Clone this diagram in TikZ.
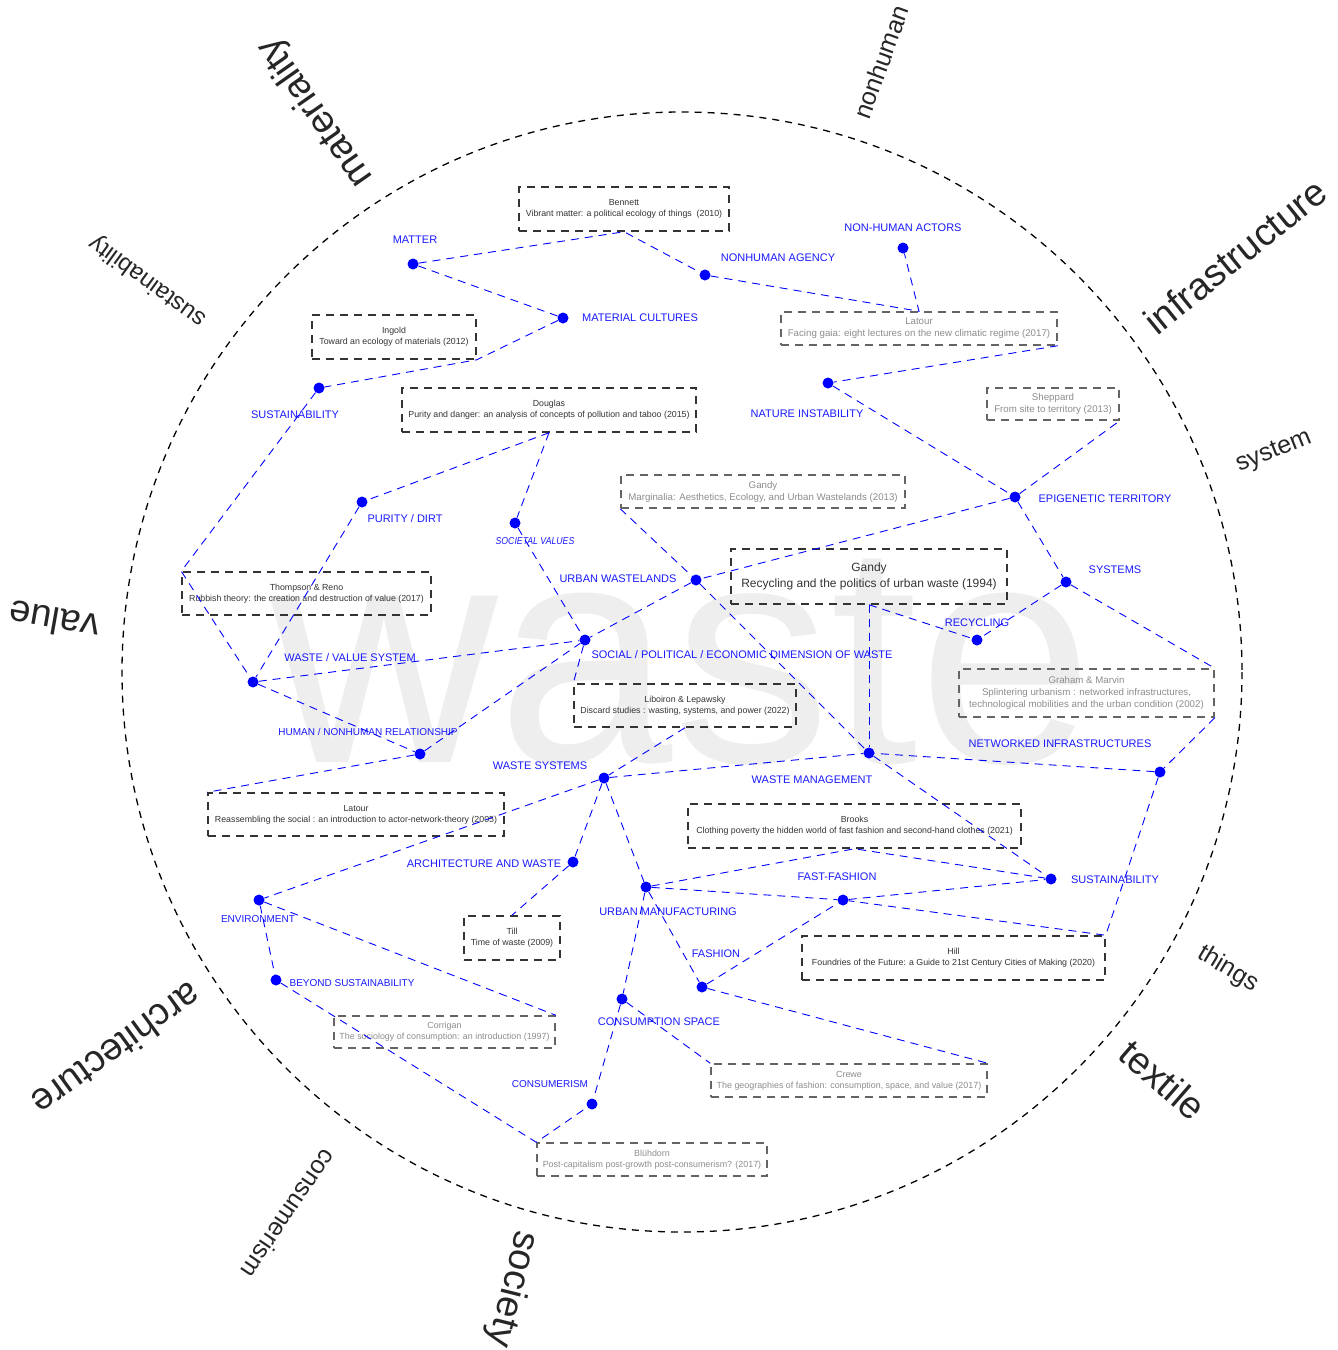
\documentclass[tikz,border=0pt]{standalone}
\usepackage{fontspec}
\setmainfont{Liberation Sans}
\usepackage{xcolor}
\usepackage{tikz}
\usetikzlibrary{positioning}

\definecolor{kwblue}{RGB}{25,25,255}
\definecolor{linkblue}{RGB}{0,0,255}
\definecolor{refdark}{RGB}{51,51,51}
\definecolor{refgrayline}{RGB}{100,100,100}
\definecolor{refgraytext}{RGB}{140,140,140}
\definecolor{wastegray}{RGB}{238,238,238}

\begin{document}
\begin{tikzpicture}[
    x=1pt, y=-1pt,
    dot/.style={circle, fill=linkblue, inner sep=0pt, minimum size=11pt},
    kw/.style={text=kwblue, inner sep=0pt, font=\fontsize{11}{13}\selectfont},
    kwsmall/.style={text=kwblue, inner sep=0pt, font=\fontsize{10}{12}\selectfont},
    link/.style={draw=linkblue, line width=0.9pt, dash pattern=on 8pt off 6pt},
    ref/.style={draw=refdark, text=refdark, line width=1.5pt, dash pattern=on 8pt off 6pt,
      align=center, inner sep=0pt, font=\fontsize{8.8}{11}\selectfont},
    refgray/.style={ref, draw=refgrayline, text=refgraytext, font=\fontsize{9.7}{12}\selectfont},
    refgraysmall/.style={refgray, font=\fontsize{8.9}{11}\selectfont},
    theme/.style={text=black!85, inner sep=0pt, font=\fontsize{25}{30}\selectfont},
    bigtheme/.style={text=black!85, inner sep=0pt, font=\fontsize{38}{44}\selectfont}
  ]
  \useasboundingbox (0,0) rectangle (1338,1350);

  % background word and frame
  \node[text=wastegray, inner sep=0pt, anchor=base, font=\fontsize{315}{315}\selectfont] (wasteword) at (682,762) {waste};
  \draw[line width=1.3pt, dash pattern=on 7pt off 6pt] (682,672) circle (560);

  % themes round the circle
  \node[bigtheme, rotate=125] (materiality) at (316,112) {materiality};
  \node[theme, rotate=70] (nonhuman) at (881,62) {nonhuman};
  \node[bigtheme, rotate=39] (infrastructure) at (1235,256) {infrastructure};
  \node[theme, rotate=22] (system) at (1274,452) {system};
  \node[theme, rotate=-31] (things) at (1228,969) {things};
  \node[bigtheme, rotate=-41] (textile) at (1163,1080) {textile};
  \node[bigtheme, rotate=-104] (society) at (512,1289) {society};
  \node[theme, rotate=-124] (consumerismword) at (289,1214) {consumerism};
  \node[bigtheme, rotate=-144] (architecture) at (117,1050) {architecture};
  \node[bigtheme, rotate=170] (value) at (54,621) {value};
  \node[theme, font=\fontsize{24}{28}\selectfont, rotate=144] (sustainabilityword) at (148,281) {sustainability};

  % references
  \node[ref, minimum width=210, minimum height=44] (bennett) at (624,209) {Bennett\\Vibrant matter: a political ecology of things\ \ (2010)};
  \node[ref, minimum width=164, minimum height=44] (ingold) at (394,337) {Ingold\\Toward an ecology of materials (2012)};
  \node[refgray, minimum width=276, minimum height=33] (latourgaia) at (919,328.5) {Latour\\Facing gaia: eight lectures on the new climatic regime (2017)};
  \node[ref, minimum width=294, minimum height=44] (douglas) at (549,410) {Douglas\\Purity and danger: an analysis of concepts of pollution and taboo (2015)};
  \node[refgray, minimum width=132, minimum height=32] (sheppard) at (1053,404) {Sheppard\\From site to territory (2013)};
  \node[refgray, minimum width=284, minimum height=33] (gandymarg) at (763,491.5) {Gandy\\Marginalia: Aesthetics, Ecology, and Urban Wastelands (2013)};
  \node[ref, minimum width=276, minimum height=55, font=\fontsize{12}{16}\selectfont] (gandyrec) at (869,576.5) {Gandy\\Recycling and the politics of urban waste (1994)};
  \node[ref, minimum width=249, minimum height=43] (thompson) at (306.5,593.5) {Thompson \& Reno\\Rubbish theory: the creation and destruction of value (2017)};
  \node[refgray, minimum width=255, minimum height=48] (graham) at (1086.5,693) {Graham \& Marvin\\Splintering urbanism : networked infrastructures,\\technological mobilities and the urban condition (2002)};
  \node[ref, minimum width=222, minimum height=43] (liboiron) at (685,705.5) {Liboiron \& Lepawsky\\Discard studies : wasting, systems, and power (2022)};
  \node[ref, minimum width=296, minimum height=43] (latoursocial) at (356,814.5) {Latour\\Reassembling the social : an introduction to actor-network-theory (2005)};
  \node[ref, minimum width=333, minimum height=44] (brooks) at (854.5,826) {Brooks\\Clothing poverty the hidden world of fast fashion and second-hand clothes (2021)};
  \node[ref, minimum width=96, minimum height=44] (till) at (512,938) {Till\\Time of waste (2009)};
  \node[ref, minimum width=303, minimum height=44] (hill) at (953.5,958) {Hill\\Foundries of the Future: a Guide to 21st Century Cities of Making (2020)};
  \node[refgraysmall, minimum width=221, minimum height=32] (corrigan) at (444.5,1032) {Corrigan\\The sociology of consumption: an introduction (1997)};
  \node[refgraysmall, minimum width=276, minimum height=33] (crewe) at (849,1080.5) {Crewe\\The geographies of fashion: consumption, space, and value (2017)};
  \node[refgraysmall, minimum width=230, minimum height=33] (bluhdorn) at (652,1159.5) {Blühdorn\\Post-capitalism post-growth post-consumerism? (2017)};

  % keywords
  \node[dot] (matter) at (413,264) {};
  \node[dot] (nhagency) at (705,275) {};
  \node[dot] (nhactors) at (903,248) {};
  \node[dot] (matcult) at (563,318) {};
  \node[dot] (sustA) at (319,388) {};
  \node[dot] (natinst) at (828,383) {};
  \node[dot] (epigen) at (1015,497) {};
  \node[dot] (purity) at (362,502) {};
  \node[dot] (socval) at (515,523) {};
  \node[dot] (urbwaste) at (696,580) {};
  \node[dot] (systems) at (1066,582) {};
  \node[dot] (recycling) at (977,640) {};
  \node[dot] (socpol) at (585,640) {};
  \node[dot] (wvs) at (253,682) {};
  \node[dot] (humnon) at (420,754) {};
  \node[dot] (wastemgmt) at (869,753) {};
  \node[dot] (netinfra) at (1160,772) {};
  \node[dot] (wastesys) at (604,778) {};
  \node[dot] (archwaste) at (573,862) {};
  \node[dot] (environment) at (259,900) {};
  \node[dot] (urbmanu) at (646,887) {};
  \node[dot] (fastfash) at (843,900) {};
  \node[dot] (sustB) at (1051,879) {};
  \node[dot] (fashion) at (702,987) {};
  \node[dot] (beyond) at (276,980) {};
  \node[dot] (consspace) at (622,999) {};
  \node[dot] (consumerism) at (592,1104) {};

  \node[kw] (matterlbl) at (415,240) {MATTER};
  \node[kw] (nhagencylbl) at (778,258) {NONHUMAN AGENCY};
  \node[kw] (nhactorslbl) at (903,228) {NON-HUMAN ACTORS};
  \node[kw] (matcultlbl) at (640,318) {MATERIAL CULTURES};
  \node[kw] (sustAlbl) at (295,415) {SUSTAINABILITY};
  \node[kw] (natinstlbl) at (807,414) {NATURE INSTABILITY};
  \node[kw] (epigenlbl) at (1105,499) {EPIGENETIC TERRITORY};
  \node[kw] (puritylbl) at (405,519) {PURITY / DIRT};
  \node[kwsmall, font=\fontsize{10}{12}\selectfont\itshape, xscale=0.87] (socvallbl) at (535,541) {SOCIETAL VALUES};
  \node[kw] (urbwastelbl) at (618,579) {URBAN WASTELANDS};
  \node[kw] (systemslbl) at (1115,570) {SYSTEMS};
  \node[kw] (recyclinglbl) at (977,623) {RECYCLING};
  \node[kw] (socpollbl) at (742,655) {SOCIAL / POLITICAL / ECONOMIC DIMENSION OF WASTE};
  \node[kw] (wvslbl) at (350,658) {WASTE / VALUE SYSTEM};
  \node[kwsmall] (humnonlbl) at (368,732) {HUMAN / NONHUMAN RELATIONSHIP};
  \node[kw] (wastemgmtlbl) at (812,780) {WASTE MANAGEMENT};
  \node[kw] (netinfralbl) at (1060,744) {NETWORKED INFRASTRUCTURES};
  \node[kw] (wastesyslbl) at (540,766) {WASTE SYSTEMS};
  \node[kw] (archwastelbl) at (484,864) {ARCHITECTURE AND WASTE};
  \node[kwsmall] (environmentlbl) at (258,919) {ENVIRONMENT};
  \node[kw] (urbmanulbl) at (668,912) {URBAN MANUFACTURING};
  \node[kw] (fastfashlbl) at (837,877) {FAST-FASHION};
  \node[kw] (sustBlbl) at (1115,880) {SUSTAINABILITY};
  \node[kw] (fashionlbl) at (716,954) {FASHION};
  \node[kwsmall] (beyondlbl) at (352,983) {BEYOND SUSTAINABILITY};
  \node[kw] (consspacelbl) at (659,1022) {CONSUMPTION SPACE};
  \node[kwsmall] (consumerismlbl) at (550,1084) {CONSUMERISM};

  % connections
  \draw[link] (matter) -- (bennett.south) -- (nhagency);
  \draw[link] (matter) -- (matcult) -- (ingold.south east) -- (sustA);
  \draw[link] (nhagency) -- (latourgaia.north) -- (nhactors);
  \draw[link] (latourgaia.south east) -- (natinst) -- (epigen) -- (sheppard.south east);
  \draw[link] (epigen) -- (urbwaste);
  \draw[link] (epigen) -- (systems) -- (recycling);
  \draw[link] (systems) -- (graham.north east);
  \draw[link] (graham.south east) -- (netinfra) -- (wastemgmt);
  \draw[link] (netinfra) -- (hill.north east) -- (fastfash);
  \draw[link] (gandyrec.south) -- (wastemgmt);
  \draw[link] (gandyrec.south) -- (recycling);
  \draw[link] (gandymarg.south west) -- (urbwaste) -- (wastemgmt) -- (sustB);
  \draw[link] (urbwaste) -- (socpol);
  \draw[link] (douglas.south) -- (socval) -- (socpol);
  \draw[link] (douglas.south) -- (purity) -- (wvs);
  \draw[link] (sustA) -- (thompson.north west) -- (wvs) -- (socpol);
  \draw[link] (wvs) -- (humnon) -- (socpol);
  \draw[link] (humnon) -- (latoursocial.north west);
  \draw[link] (socpol) -- (liboiron.north west);
  \draw[link] (liboiron.south) -- (wastesys) -- (wastemgmt);
  \draw[link] (wastesys) -- (environment);
  \draw[link] (wastesys) -- (archwaste) -- (till.north);
  \draw[link] (wastesys) -- (urbmanu);
  \draw[link] (environment) -- (beyond) -- (bluhdorn.north west) -- (consumerism);
  \draw[link] (environment) -- (corrigan.north east);
  \draw[link] (urbmanu) -- (consspace) -- (consumerism);
  \draw[link] (consspace) -- (crewe.north west);
  \draw[link] (urbmanu) -- (fashion) -- (fastfash);
  \draw[link] (urbmanu) -- (fastfash) -- (sustB);
  \draw[link] (urbmanu) -- (brooks.south) -- (sustB);
  \draw[link] (fashion) -- (crewe.north east);
\end{tikzpicture}
\end{document}
